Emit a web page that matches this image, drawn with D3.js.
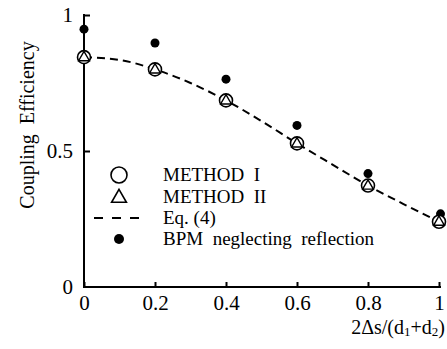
<!DOCTYPE html>
<html>
<head>
<meta charset="utf-8">
<script src="https://cdn.jsdelivr.net/npm/d3@7"></script>
<style>
  body { margin: 0; background: #fff; }
  svg { display: block; font-family: "Liberation Serif", "DejaVu Serif", serif; }
  .axis path, .axis line { stroke: #000; stroke-width: 2; }
  .axis text { font-size: 21px; fill: #000; font-family: "Liberation Serif", serif; }
</style>
</head>
<body>
<div class="chart"></div>
<script>
// values
const xValues = [0, 0.2, 0.4, 0.6, 0.8, 1];
const method1 = [0.845, 0.80, 0.686, 0.528, 0.373, 0.24];
const method2 = [0.845, 0.80, 0.686, 0.528, 0.373, 0.24];
const bpm = [0.948, 0.897, 0.764, 0.594, 0.417, 0.269];
const eqX = [0, 0.1, 0.2, 0.3, 0.4, 0.5, 0.6, 0.7, 0.8, 0.9, 1];
const eqY = [0.845, 0.835, 0.80, 0.75, 0.686, 0.61, 0.528, 0.45, 0.373, 0.305, 0.24];
const xTicks = [0, 0.2, 0.4, 0.6, 0.8, 1];
const yTicks = [0, 0.5, 1];
const legendLabels = ["METHOD  I", "METHOD  II", "Eq. (4)", "BPM  neglecting  reflection"];

let width = 447, height = 349;
let margin = {top: 15, right: 8, bottom: 62, left: 84};

let svg = d3.select(".chart").append("svg")
    .attr("width", width)
    .attr("height", height);

let x = d3.scaleLinear().domain([0, 1]).range([margin.left, 439]);
let y = d3.scaleLinear().domain([0, 1]).range([287, margin.top]);

//axes, ticks pointing inward
svg.append("g")
    .attr("class", "axis")
    .attr("transform", "translate(0," + y(0) + ")")
    .call(d3.axisBottom(x).tickValues(xTicks).tickSizeInner(-5).tickSizeOuter(0).tickPadding(8)
        .tickFormat(d => d === 0 || d === 1 ? d3.format("d")(d) : d3.format(".1f")(d)))
    .call(g => g.select(".domain").attr("d", "M" + (x(0) - 1) + ",0H" + (x(1) + 2)));

svg.append("g")
    .attr("class", "axis")
    .attr("transform", "translate(" + x(0) + ",0)")
    .call(d3.axisLeft(y).tickValues(yTicks).tickSizeInner(-6).tickSizeOuter(0).tickPadding(11)
        .tickFormat(d => d === 0.5 ? "0.5" : d3.format("d")(d)))
    .call(g => g.select(".domain").attr("d", "M0," + (y(1) - 1) + "V" + (y(0) + 1)))
    .call(g => g.selectAll(".tick").filter(d => d === 0).select("line").remove());

//equation curve
let line = d3.line()
    .x((d, i) => x(eqX[i]))
    .y(d => y(d))
    .curve(d3.curveMonotoneX);

svg.append("path")
    .datum(eqY)
    .attr("d", line)
    .attr("fill", "none")
    .attr("stroke", "#000")
    .attr("stroke-width", 2)
    .attr("stroke-dasharray", "8,5");

//BPM dots
svg.selectAll(".bpm")
    .data(bpm)
    .enter().append("circle")
    .attr("cx", (d, i) => x(xValues[i]) + (i === 5 ? 1.5 : 0))
    .attr("cy", d => y(d))
    .attr("r", 4.5)
    .attr("fill", "#000");

//method I circles
svg.selectAll(".m1")
    .data(method1)
    .enter().append("circle")
    .attr("cx", (d, i) => x(xValues[i]))
    .attr("cy", d => y(d))
    .attr("r", 6.5)
    .attr("fill", "#fff")
    .attr("stroke", "#000")
    .attr("stroke-width", 1.6);

//method II triangles
let tri = d3.symbol().type(d3.symbolTriangle).size(50);
svg.selectAll(".m2")
    .data(method2)
    .enter().append("path")
    .attr("d", tri)
    .attr("transform", (d, i) => "translate(" + x(xValues[i]) + "," + (y(d) + 0.5) + ")")
    .attr("fill", "none")
    .attr("stroke", "#000")
    .attr("stroke-width", 1.4);

//legend
let lx = 119, ly = [175, 197, 218, 239], tx = 163;
let legend = svg.append("g");
legend.append("circle").attr("cx", lx).attr("cy", ly[0]).attr("r", 8)
    .attr("fill", "none").attr("stroke", "#000").attr("stroke-width", 1.6);
legend.append("path").attr("d", d3.symbol().type(d3.symbolTriangle).size(95))
    .attr("transform", "translate(" + lx + "," + (ly[1] + 1) + ")")
    .attr("fill", "none").attr("stroke", "#000").attr("stroke-width", 1.6);
legend.append("line").attr("x1", 94).attr("x2", 146).attr("y1", ly[2]).attr("y2", ly[2])
    .attr("stroke", "#000").attr("stroke-width", 2).attr("stroke-dasharray", "9,9");
legend.append("circle").attr("cx", lx).attr("cy", ly[3]).attr("r", 5).attr("fill", "#000");
legend.selectAll("text")
    .data(legendLabels)
    .enter().append("text")
    .attr("x", tx)
    .attr("y", (d, i) => ly[i] + 6)
    .attr("font-size", 19)
    .style("white-space", "pre")
    .attr("xml:space", "preserve")
    .text(d => d);

//axis labels
svg.append("text")
    .attr("transform", "translate(34,125) rotate(-90)")
    .attr("text-anchor", "middle")
    .attr("font-size", 20)
    .attr("xml:space", "preserve")
    .style("white-space", "pre")
    .text("Coupling  Efficiency");

let xl = svg.append("text")
    .attr("x", 445)
    .attr("y", 334)
    .attr("text-anchor", "end")
    .attr("font-size", 20);
xl.append("tspan").text("2\u0394s/(d");
xl.append("tspan").attr("font-size", 13).attr("dy", 2).text("1");
xl.append("tspan").attr("dy", -2).text("+d");
xl.append("tspan").attr("font-size", 13).attr("dy", 2).text("2");
xl.append("tspan").attr("dy", -2).text(")");
</script>
</body>
</html>
